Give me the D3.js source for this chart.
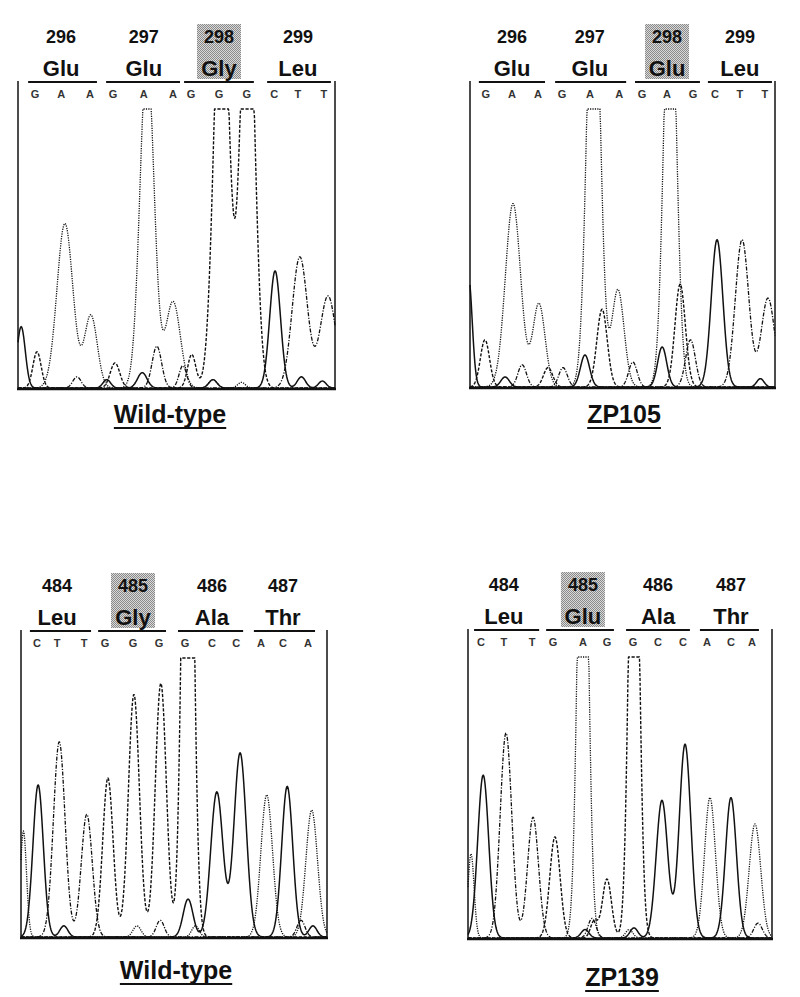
<!DOCTYPE html>
<html>
<head>
<meta charset="utf-8">
<script src="https://cdn.jsdelivr.net/npm/d3@7"></script>
<style>
  body { margin: 0; background: #fff; }
  svg { display: block; }
</style>
</head>
<body>
<svg id="vis" width="800" height="997"></svg>
<script>
// Sequencing chromatograms: wild-type vs mutant, two loci.
// Peaks are [scan position 0-100, signal (100 = top of window, saturates above), width].

const numbersTop = ["296", "297", "298", "299"];
const numbersBottom = ["484", "485", "486", "487"];

const residuesWT1 = ["Glu", "Glu", "Gly", "Leu"];
const residuesZP105 = ["Glu", "Glu", "Glu", "Leu"];
const residuesWT2 = ["Leu", "Gly", "Ala", "Thr"];
const residuesZP139 = ["Leu", "Glu", "Ala", "Thr"];

const callsWT1 = ["G", "A", "A", "G", "A", "A", "G", "G", "G", "C", "T", "T"];
const callsZP105 = ["G", "A", "A", "G", "A", "A", "G", "A", "G", "C", "T", "T"];
const callsWT2 = ["C", "T", "T", "G", "G", "G", "G", "C", "C", "A", "C", "A"];
const callsZP139 = ["C", "T", "T", "G", "A", "G", "G", "C", "C", "A", "C", "A"];

const callPosWT1 = [5.4, 13.6, 22.7, 30.0, 39.7, 48.9, 54.6, 63.4, 72.2, 80.8, 88.3, 96.5];
const callPosZP105 = [5.2, 13.8, 22.3, 30.2, 39.3, 48.9, 56.4, 64.6, 73.1, 80.3, 88.5, 96.7];
const callPosWT2 = [5.2, 11.8, 20.6, 27.5, 36.6, 45.1, 53.6, 62.4, 70.3, 78.4, 85.6, 93.8];
const callPosZP139 = [4.3, 11.8, 21.1, 28.0, 37.8, 45.7, 54.3, 62.5, 70.7, 78.6, 86.5, 93.4];

const mutatedCodon = [2, 2, 1, 1];
const captions = ["Wild-type", "ZP105", "Wild-type", "ZP139"];

// ---- traces, panel 1 (wild-type 296-299)
const wt1A = [[14.8, 59, 2.5], [23.0, 26, 2.0], [40.7, 120, 2.2], [48.9, 31, 2.3], [61.5, 3, 1.3], [70.5, 2, 1.2]];
const wt1C = [[1.0, 22, 1.3], [28.0, 3, 1.2], [39.2, 5.5, 1.5], [61.5, 3, 1.3], [81.1, 42, 1.7], [89.4, 4, 1.3], [96.0, 2.5, 1.2]];
const wt1G = [[6.0, 13, 1.3], [30.6, 9, 1.5], [54.8, 12, 1.3], [64.2, 160, 2.3], [72.4, 160, 2.2]];
const wt1T = [[18.6, 4, 1.3], [43.8, 15, 1.5], [52.0, 8, 1.2], [88.9, 47, 2.4], [97.8, 33, 2.5]];

// ---- panel 2 (ZP105)
const zp105A = [[14.1, 66, 2.5], [22.6, 30, 2.0], [40.5, 170, 2.1], [48.5, 35, 2.0], [65.6, 160, 2.0]];
const zp105C = [[-0.5, 40, 1.2], [11.5, 3.6, 1.4], [37.7, 11.5, 1.5], [63.0, 14.4, 1.5], [81.0, 53, 1.9], [95.2, 3, 1.2]];
const zp105G = [[4.9, 17, 1.5], [25.6, 7, 1.5], [43.3, 28, 1.7], [68.9, 37, 1.7]];
const zp105T = [[17.1, 8, 1.4], [30.5, 7, 1.4], [53.4, 9, 1.4], [72.3, 17, 1.6], [89.2, 53, 2.2], [97.7, 32, 2.2]];

// ---- panel 3 (wild-type 484-487)
const wt2A = [[0.8, 38, 1.0], [37.9, 4, 1.3], [57.0, 4, 1.2], [80.3, 51, 1.9], [95.0, 45.5, 1.9]];
const wt2C = [[5.6, 54.5, 1.7], [14.0, 4, 1.3], [54.6, 13.6, 1.6], [64.0, 52, 2.0], [71.6, 66, 2.0], [87.0, 54, 1.8], [95.4, 4, 1.3]];
const wt2G = [[28.4, 57, 1.7], [36.9, 87, 1.8], [45.7, 91, 1.8], [54.5, 250, 1.7]];
const wt2T = [[12.5, 70, 1.9], [21.5, 44, 1.8], [45.5, 6, 1.3], [91.5, 6, 1.3]];

// ---- panel 4 (ZP139)
const zp139A = [[1.0, 30, 1.0], [37.8, 200, 1.65], [53.0, 3, 1.2], [79.6, 50, 1.8], [94.4, 40.6, 1.9]];
const zp139C = [[5.0, 58, 1.8], [38.5, 3, 1.3], [54.6, 3.6, 1.3], [63.8, 49, 1.9], [71.4, 69, 1.9], [86.5, 50, 1.8]];
const zp139G = [[28.6, 36, 1.7], [41.5, 6, 1.2], [45.7, 21, 1.5], [54.6, 200, 1.6]];
const zp139T = [[12.5, 73, 1.9], [21.4, 43, 1.8], [40.8, 7, 1.3], [95.4, 5.3, 1.4]];

// layout (pixels)
const LAYOUT = [
    {left: 18, right: 335, line: 82, top: 109, base: 388, capX: 170, capY: 423},
    {left: 470, right: 775, line: 82, top: 109, base: 387, capX: 624, capY: 423},
    {left: 21, right: 327, line: 631, top: 658, base: 937, capX: 176, capY: 979},
    {left: 468, right: 772, line: 630, top: 657, base: 938, capX: 622, capY: 986}
];

const STYLE = {
    A: {dash: "1.2,1.2", width: 1.3},
    C: {dash: null, width: 1.5},
    G: {dash: "3.2,1.6", width: 1.4},
    T: {dash: "4,1.5,1.2,1.5", width: 1.3}
};

const panels = [
    {numbers: numbersTop, residues: residuesWT1, calls: callsWT1, callPos: callPosWT1,
     traces: {A: wt1A, C: wt1C, G: wt1G, T: wt1T}},
    {numbers: numbersTop, residues: residuesZP105, calls: callsZP105, callPos: callPosZP105,
     traces: {A: zp105A, C: zp105C, G: zp105G, T: zp105T}},
    {numbers: numbersBottom, residues: residuesWT2, calls: callsWT2, callPos: callPosWT2,
     traces: {A: wt2A, C: wt2C, G: wt2G, T: wt2T}},
    {numbers: numbersBottom, residues: residuesZP139, calls: callsZP139, callPos: callPosZP139,
     traces: {A: zp139A, C: zp139C, G: zp139G, T: zp139T}}
];

const svg = d3.select("#vis");
const FONT = "'Liberation Sans', Arial, Helvetica, sans-serif";
const INK = "#111";

// stippled grey for the highlighted codon
const defs = svg.append("defs");
const pat = defs.append("pattern")
    .attr("id", "stipple").attr("patternUnits", "userSpaceOnUse")
    .attr("width", 2).attr("height", 2);
pat.append("rect").attr("width", 2).attr("height", 2).attr("fill", "#d9d9d9");
pat.append("rect").attr("width", 1).attr("height", 1).attr("fill", "#8a8a8a");
pat.append("rect").attr("x", 1).attr("y", 1).attr("width", 1).attr("height", 1).attr("fill", "#8a8a8a");

function signal(peaks, p) {
    let s = 0;
    for (const [c, h, w] of peaks) {
        s += h * Math.exp(-((p - c) * (p - c)) / (2 * w * w));
    }
    return s;
}

const samples = d3.range(0, 100.001, 0.2);

function drawPanel(panel, lay, i) {
    const g = svg.append("g").attr("class", "panel" + i);
    const x = d3.scaleLinear().domain([0, 100]).range([lay.left, lay.right]);
    const y = d3.scaleLinear().domain([0, 100]).range([lay.base, lay.top]).clamp(true);

    // codon groups
    const codons = d3.range(4).map(k => ({
        k: k,
        start: x(panel.callPos[k * 3]) - 7,
        end: x(panel.callPos[k * 3 + 2]) + 7,
        mid: x(panel.callPos[k * 3 + 1])
    }));

    const hi = codons[mutatedCodon[i]];
    g.append("rect")
        .attr("x", hi.mid - 22).attr("y", lay.line - 58)
        .attr("width", 44).attr("height", 55)
        .attr("fill", "url(#stipple)");

    g.selectAll(".num").data(codons).join("text")
        .attr("class", "num")
        .attr("x", d => d.mid).attr("y", lay.line - 39)
        .attr("text-anchor", "middle")
        .style("font", "bold 18px " + FONT).attr("fill", INK)
        .text(d => panel.numbers[d.k]);

    g.selectAll(".res").data(codons).join("text")
        .attr("class", "res")
        .attr("x", d => d.mid).attr("y", lay.line - 6)
        .attr("text-anchor", "middle")
        .style("font", "bold 22px " + FONT).attr("fill", INK)
        .text(d => panel.residues[d.k]);

    g.selectAll(".codonline").data(codons).join("line")
        .attr("class", "codonline")
        .attr("x1", d => d.start).attr("x2", d => d.end)
        .attr("y1", lay.line).attr("y2", lay.line)
        .attr("stroke", INK).attr("stroke-width", 2);

    g.selectAll(".call").data(panel.calls).join("text")
        .attr("class", "call")
        .attr("x", (d, j) => x(panel.callPos[j])).attr("y", lay.line + 16)
        .attr("text-anchor", "middle")
        .style("font", "bold 11px " + FONT).attr("fill", "#333")
        .text(d => d);

    // frame: sides and a heavy baseline
    g.append("line").attr("x1", lay.left).attr("x2", lay.left)
        .attr("y1", lay.line - 1).attr("y2", lay.base + 1)
        .attr("stroke", INK).attr("stroke-width", 1.5);
    g.append("line").attr("x1", lay.right).attr("x2", lay.right)
        .attr("y1", lay.line - 1).attr("y2", lay.base + 1)
        .attr("stroke", INK).attr("stroke-width", 1.5);

    const line = d3.line().x(d => x(d[0])).y(d => y(d[1]));
    ["A", "G", "T", "C"].forEach(b => {
        const pts = samples.map(p => [p, signal(panel.traces[b], p)]);
        g.append("path")
            .datum(pts)
            .attr("d", line)
            .attr("fill", "none")
            .attr("stroke", INK)
            .attr("stroke-width", STYLE[b].width)
            .attr("stroke-dasharray", STYLE[b].dash)
            .attr("stroke-linejoin", "round");
    });

    g.append("line").attr("x1", lay.left - 1).attr("x2", lay.right + 1)
        .attr("y1", lay.base + 1).attr("y2", lay.base + 1)
        .attr("stroke", INK).attr("stroke-width", 2.5);

    // caption, underlined
    const cap = g.append("text")
        .attr("x", lay.capX).attr("y", lay.capY)
        .attr("text-anchor", "middle")
        .style("font", "bold 25px " + FONT).attr("fill", INK)
        .text(captions[i]);
    const bb = cap.node().getBBox();
    g.append("line").attr("x1", bb.x).attr("x2", bb.x + bb.width)
        .attr("y1", lay.capY + 5).attr("y2", lay.capY + 5)
        .attr("stroke", INK).attr("stroke-width", 2);
}

panels.forEach((p, i) => drawPanel(p, LAYOUT[i], i));
</script>
</body>
</html>
